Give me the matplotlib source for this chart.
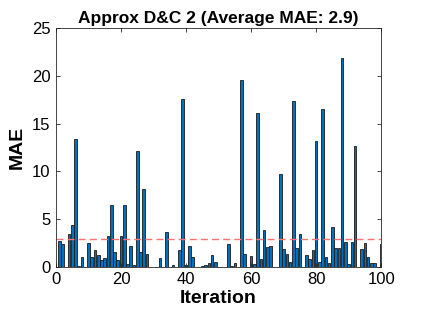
import matplotlib
matplotlib.use("Agg")
import matplotlib.pyplot as plt
import numpy as np

iterations = list(range(1, 101))
mae = [
    2.69, 2.44, 0.00, 3.49, 4.40, 13.40, 0.05, 1.03, 0.00, 2.48,
    1.05, 1.75, 1.20, 0.72, 0.95, 3.23, 6.50, 1.57, 0.68, 3.25,
    6.50, 0.26, 2.20, 0.20, 12.15, 1.52, 8.20, 1.32, 0.00, 0.00,
    0.00, 0.94, 0.00, 3.66, 0.00, 0.17, 0.00, 1.75, 17.56, 0.24,
    2.16, 1.05, 0.00, 0.00, 0.05, 0.17, 0.35, 1.22, 0.52, 0.00,
    0.00, 0.00, 2.37, 0.10, 0.42, 0.00, 19.60, 1.29, 0.00, 1.15,
    0.28, 16.10, 0.87, 3.84, 2.09, 2.16, 0.00, 0.00, 9.77, 1.85,
    1.29, 0.52, 17.38, 2.02, 3.42, 0.00, 1.22, 0.80, 1.81, 13.19,
    0.52, 16.58, 0.98, 0.45, 4.19, 1.92, 1.99, 21.92, 2.62, 0.28,
    2.62, 12.70, 0.00, 1.85, 2.51, 1.05, 0.42, 0.42, 0.00, 2.44,
]
xticks = [0, 20, 40, 60, 80, 100]
yticks = [0, 5, 10, 15, 20, 25]

plt.rcParams['font.family'] = ['Liberation Sans', 'DejaVu Sans']

fig = plt.figure(figsize=(4.24, 3.18), dpi=100)
ax = fig.add_axes([0.132, 0.161, 0.767, 0.750])

avg = float(np.mean(mae))
ax.bar(iterations, mae, width=0.8, color='#0072BD', edgecolor='#1a1a1a', linewidth=0.6)
ax.axhline(avg, color='#FF7070', linestyle=(0, (5, 3)), linewidth=1.0)

ax.set_xlim(0, 100)
ax.set_ylim(0, 25)
ax.set_xticks(xticks)
ax.set_yticks(yticks)
ax.tick_params(direction='in', length=3, width=0.6, top=True, right=True,
               labelsize=12, colors='#262626', pad=4)
for lbl in ax.get_xticklabels() + ax.get_yticklabels():
    lbl.set_color('black')
for s in ax.spines.values():
    s.set_color('#262626')
    s.set_linewidth(0.6)

ax.set_title(f"Approx D&C 2 (Average MAE: {avg:.1f})", fontsize=12.5, fontweight='bold', pad=4)
ax.set_xlabel("Iteration", fontsize=14, fontweight='bold', labelpad=2)
ax.set_ylabel("MAE", fontsize=14, fontweight='bold', labelpad=4)

fig.savefig("out.png", dpi=100)
